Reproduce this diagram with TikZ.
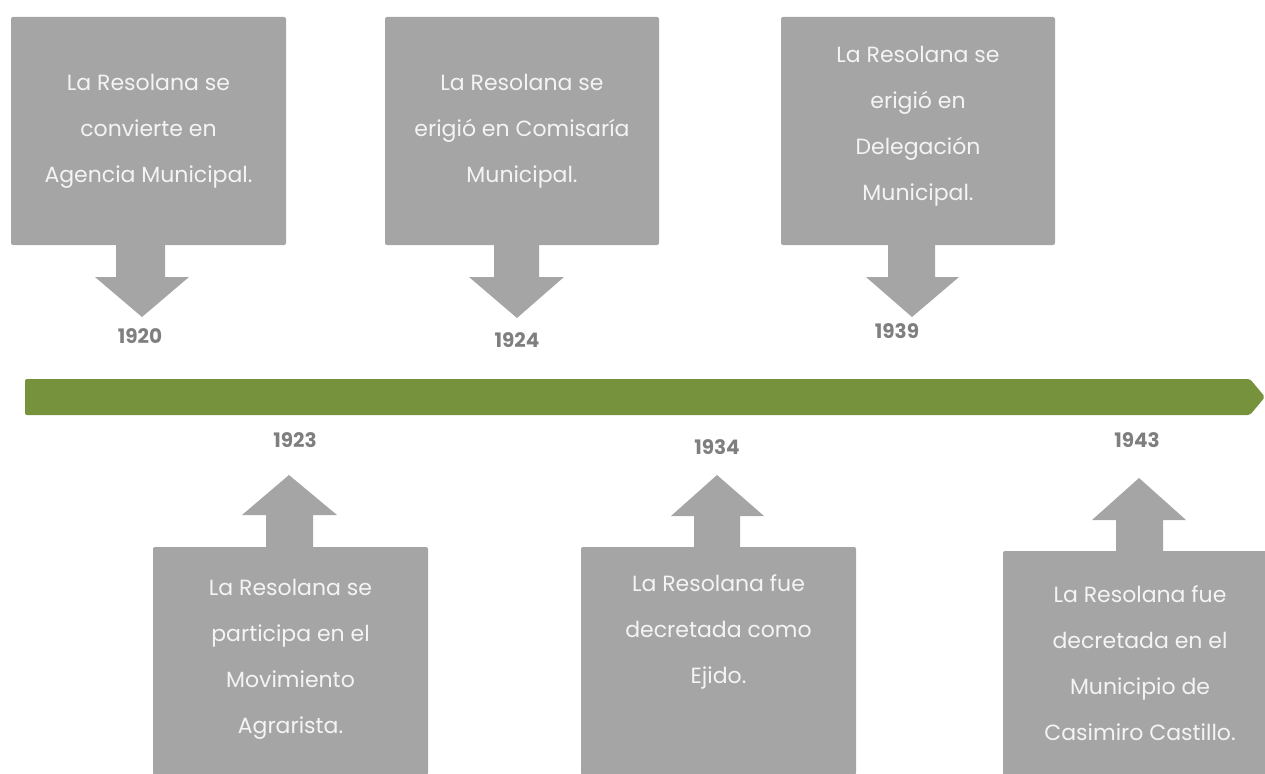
\documentclass[tikz,border=0pt]{standalone}
\usepackage{fontspec}
\setmainfont{Poppins}
\usetikzlibrary{positioning}
\definecolor{cajagris}{RGB}{165,165,165}
\definecolor{textoclaro}{RGB}{244,244,244}
\definecolor{lineaverde}{RGB}{118,146,60}
\definecolor{anio}{RGB}{127,127,127}
\begin{document}
\begin{tikzpicture}[x=1pt, y=-1pt,
    caja/.style={fill=cajagris, rounded corners=2pt, minimum width=275pt, minimum height=228pt, inner sep=0pt},
    texto/.style={text=textoclaro, align=center, font=\fontsize{22}{46}\selectfont},
    flecha/.style={fill=cajagris},
    fecha/.style={text=anio, font=\fontsize{20}{24}\selectfont\bfseries}]
    \useasboundingbox (0,0) rectangle (1265,773);
    \clip (0,0) rectangle (1265,773);
    % linea de tiempo (barra verde con punta)
    \fill[lineaverde, rounded corners=2pt] (25,379) -- (1250,379) -- (1265,397) -- (1250,415) -- (25,415) -- cycle;
    % eventos de arriba: caja, flecha hacia abajo y fecha
    \node[caja] (c1920) at (148.5,131) {};
    \node[caja, minimum width=274pt] (c1924) at (522,131) {};
    \node[caja, minimum width=274pt] (c1939) at (918,131) {};
    \node[texto] (t1920) at (148.5,131) {La Resolana se\\convierte en\\Agencia Municipal.};
    \node[texto] (t1924) at (522,131) {La Resolana se\\erigió en Comisaría\\Municipal.};
    \node[texto] (t1939) at (918,126) {La Resolana se\\erigió en\\Delegación\\Municipal.};
    \fill[flecha] (116,243) -- (165,243) -- (165,277) -- (189,277) -- (142,317) -- (95,277) -- (116,277) -- cycle;
    \fill[flecha] (494,243) -- (539,243) -- (539,277) -- (564,277) -- (517,318) -- (469,277) -- (494,277) -- cycle;
    \fill[flecha] (888,243) -- (935,243) -- (935,277) -- (959,277) -- (912,317) -- (866,277) -- (888,277) -- cycle;
    \node[fecha] (f1920) at (140,336) {1920};
    \node[fecha] (f1924) at (517,340) {1924};
    \node[fecha] (f1939) at (897,331) {1939};
    % eventos de abajo: fecha, flecha hacia arriba y caja
    \node[caja] (c1923) at (290.5,661) {};
    \node[caja] (c1934) at (718.5,661) {};
    \node[caja] (c1943) at (1140.5,665) {};
    \node[texto] (t1923) at (290.5,659) {La Resolana se\\participa en el\\Movimiento\\Agrarista.};
    \node[texto] (t1934) at (718.5,632) {La Resolana fue\\decretada como\\Ejido.};
    \node[texto] (t1943) at (1140,663) {La Resolana fue\\decretada en el\\Municipio de\\Casimiro Castillo.};
    \fill[flecha] (266,549) -- (313,549) -- (313,515) -- (337,515) -- (289,475) -- (242,515) -- (266,515) -- cycle;
    \fill[flecha] (694,549) -- (740,549) -- (740,516) -- (764,516) -- (717,475) -- (671,516) -- (694,516) -- cycle;
    \fill[flecha] (1116,553) -- (1163,553) -- (1163,520) -- (1186,520) -- (1139,478) -- (1092,520) -- (1116,520) -- cycle;
    \node[fecha] (f1923) at (295,440) {1923};
    \node[fecha] (f1934) at (717,447) {1934};
    \node[fecha] (f1943) at (1137,440) {1943};
\end{tikzpicture}
\end{document}
